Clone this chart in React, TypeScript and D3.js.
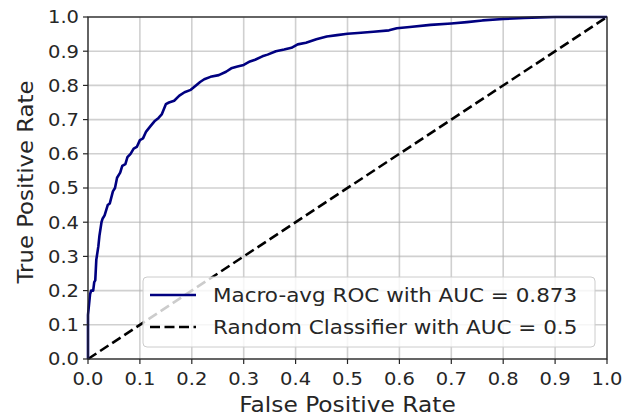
import React from "react";
import * as d3 from "d3";

const fpr = [0, 0, 0.004, 0.006, 0.010, 0.012, 0.014, 0.016, 0.020, 0.022, 0.026, 0.028, 0.032, 0.038, 0.042, 0.048, 0.052, 0.056, 0.062, 0.066, 0.072, 0.076, 0.082, 0.088, 0.094, 0.100, 0.106, 0.112, 0.120, 0.128, 0.136, 0.142, 0.150, 0.156, 0.166, 0.176, 0.186, 0.198, 0.208, 0.216, 0.224, 0.236, 0.252, 0.266, 0.276, 0.288, 0.300, 0.312, 0.322, 0.336, 0.346, 0.362, 0.378, 0.392, 0.404, 0.42, 0.44, 0.46, 0.48, 0.50, 0.52, 0.55, 0.58, 0.595, 0.62, 0.66, 0.70, 0.73, 0.76, 0.80, 0.84, 0.87, 0.90, 1.0];
const tpr = [0, 0.129, 0.19, 0.20, 0.20, 0.225, 0.23, 0.29, 0.33, 0.36, 0.40, 0.41, 0.42, 0.45, 0.455, 0.49, 0.50, 0.53, 0.545, 0.565, 0.57, 0.59, 0.60, 0.615, 0.62, 0.64, 0.645, 0.665, 0.68, 0.695, 0.705, 0.715, 0.745, 0.75, 0.755, 0.77, 0.78, 0.787, 0.80, 0.81, 0.818, 0.825, 0.83, 0.84, 0.85, 0.855, 0.86, 0.87, 0.875, 0.885, 0.89, 0.90, 0.905, 0.91, 0.92, 0.925, 0.935, 0.943, 0.947, 0.951, 0.953, 0.957, 0.961, 0.967, 0.971, 0.977, 0.981, 0.985, 0.99, 0.994, 0.997, 0.999, 1.0, 1.0];
const randomX = [0, 1];
const randomY = [0, 1];
const ticks = [0, 0.1, 0.2, 0.3, 0.4, 0.5, 0.6, 0.7, 0.8, 0.9, 1.0];
const legendLabels = ["Macro-avg ROC with AUC = 0.873", "Random Classifier with AUC = 0.5"];
const xLabel = "False Positive Rate";
const yLabel = "True Positive Rate";

const W = 638, H = 419;
const L = 88, R = 607, T = 17, B = 359;
const FONT = "DejaVu Sans, sans-serif";
const SY = 0.9;

function Txt(props: { x: number; y: number; size: number; anchor?: string; rotate?: number; children: React.ReactNode; mid?: boolean }) {
  const { x, y, size, anchor = "start", rotate = 0, children, mid } = props;
  const tf = rotate
    ? `translate(${x},${y}) rotate(${rotate}) scale(1,${SY})`
    : `translate(${x},${y}) scale(1,${SY})`;
  return (
    <g transform={tf}>
      <text x={0} y={0} dy={mid ? "0.36em" : undefined} textAnchor={anchor as any} fontFamily={FONT} fontSize={size} fill="#262626">
        {children}
      </text>
    </g>
  );
}

export default function App() {
  const x = d3.scaleLinear().domain([0, 1]).range([L, R]);
  const y = d3.scaleLinear().domain([0, 1]).range([B, T]);
  const rocPath = d3.line<number>().x((_, i) => x(fpr[i])).y((d) => y(d))(tpr) || "";
  const randPath = d3.line<number>().x((_, i) => x(randomX[i])).y((d) => y(d))(randomY) || "";
  const fmt = d3.format(".1f");

  return (
    <svg width={W} height={H} style={{ position: "absolute", left: 0, top: 0, background: "#fff" }}>
      <rect x={0} y={0} width={W} height={H} fill="#fff" />
      {ticks.map((t) => (
        <g key={"g" + t}>
          <line x1={x(t)} x2={x(t)} y1={T} y2={B} stroke="#b0b0b0" strokeOpacity={0.6} strokeWidth={1.6} />
          <line x1={L} x2={R} y1={y(t)} y2={y(t)} stroke="#b0b0b0" strokeOpacity={0.6} strokeWidth={1.6} />
        </g>
      ))}
      <path d={randPath} fill="none" stroke="#000" strokeWidth={2.6} strokeDasharray="10,4.5" />
      <path d={rocPath} fill="none" stroke="#000080" strokeWidth={2.6} strokeLinejoin="round" />
      <rect x={L} y={T} width={R - L} height={B - T} fill="none" stroke="#262626" strokeWidth={1.3} />
      {ticks.map((t) => (
        <g key={"t" + t}>
          <line x1={x(t)} x2={x(t)} y1={B} y2={B + 5} stroke="#262626" strokeWidth={1.2} />
          <Txt x={x(t)} y={385} size={19.5} anchor="middle">{fmt(t)}</Txt>
          <line x1={L - 5} x2={L} y1={y(t)} y2={y(t)} stroke="#262626" strokeWidth={1.2} />
          <Txt x={79} y={y(t)} size={19.5} anchor="end" mid>{fmt(t)}</Txt>
        </g>
      ))}
      <Txt x={(L + R) / 2} y={412} size={23.3} anchor="middle">{xLabel}</Txt>
      <Txt x={33} y={182} size={22.8} anchor="middle" rotate={-90}>{yLabel}</Txt>
      <g>
        <rect x={143} y={277} width={452} height={70} rx={4} fill="#fff" fillOpacity={0.8} stroke="#cccccc" strokeWidth={1} />
        <line x1={150} x2={196} y1={295} y2={295} stroke="#000080" strokeWidth={2.6} />
        <line x1={150} x2={196} y1={327} y2={327} stroke="#000" strokeWidth={2.6} strokeDasharray="10,4.5" />
        {legendLabels.map((s, i) => (
          <Txt key={s} x={213} y={295 + i * 32} size={21.5} mid>{s}</Txt>
        ))}
      </g>
    </svg>
  );
}
